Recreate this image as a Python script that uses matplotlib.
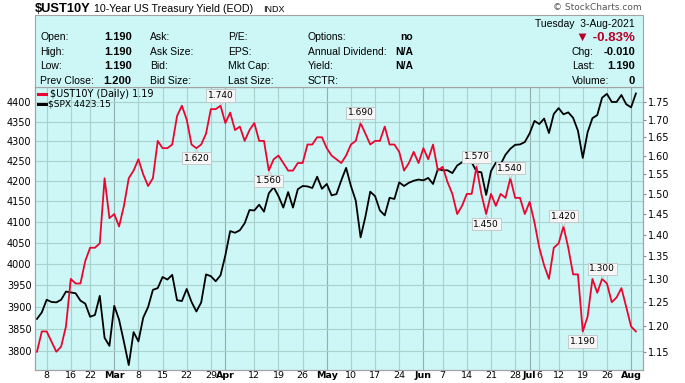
import matplotlib
matplotlib.use('Agg')
import matplotlib.pyplot as plt
import matplotlib.transforms as mtransforms
from matplotlib.ticker import FixedLocator, NullLocator, FixedFormatter
from matplotlib.patches import Rectangle
from matplotlib.lines import Line2D

W, H = 685, 383

# daily closes, trading days 4-Feb-2021 .. 3-Aug-2021
ust10y = [1.15, 1.19, 1.19, 1.17, 1.15, 1.16, 1.20, 1.30, 1.29, 1.29,
          1.34, 1.37, 1.37, 1.38, 1.54, 1.44, 1.45, 1.42, 1.47, 1.54,
          1.56, 1.59, 1.55, 1.52, 1.54, 1.64, 1.62, 1.62, 1.63, 1.71,
          1.74, 1.70, 1.63, 1.62, 1.63, 1.66, 1.73, 1.73, 1.74, 1.69,
          1.72, 1.67, 1.68, 1.64, 1.67, 1.69, 1.64, 1.64, 1.56, 1.59,
          1.60, 1.58, 1.56, 1.56, 1.58, 1.58, 1.63, 1.63, 1.65, 1.65,
          1.62, 1.60, 1.59, 1.58, 1.60, 1.63, 1.64, 1.69, 1.66, 1.63,
          1.64, 1.64, 1.68, 1.63, 1.63, 1.61, 1.56, 1.58, 1.61, 1.58,
          1.62, 1.59, 1.63, 1.56, 1.57, 1.53, 1.50, 1.45, 1.47, 1.50,
          1.50, 1.57, 1.50, 1.45, 1.50, 1.47, 1.50, 1.49, 1.54, 1.49,
          1.49, 1.45, 1.48, 1.43, 1.37, 1.33, 1.30, 1.37, 1.38, 1.42,
          1.37, 1.31, 1.31, 1.19, 1.22, 1.30, 1.27, 1.30, 1.29, 1.25,
          1.26, 1.28, 1.24, 1.20, 1.19]

spx = [3872, 3887, 3916, 3911, 3910, 3916, 3935, 3933, 3931, 3914,
       3907, 3877, 3881, 3925, 3829, 3811, 3902, 3870, 3820, 3768,
       3842, 3821, 3875, 3899, 3939, 3943, 3969, 3963, 3974, 3915,
       3913, 3941, 3911, 3889, 3910, 3975, 3971, 3959, 3973, 4020,
       4078, 4074, 4080, 4097, 4129, 4128, 4142, 4125, 4170, 4185,
       4163, 4135, 4173, 4135, 4180, 4188, 4187, 4183, 4211, 4181,
       4193, 4165, 4168, 4202, 4233, 4188, 4152, 4063, 4113, 4174,
       4163, 4128, 4116, 4159, 4156, 4197, 4188, 4196, 4201, 4204,
       4202, 4208, 4193, 4230, 4227, 4227, 4220, 4239, 4247, 4255,
       4247, 4224, 4222, 4166, 4225, 4246, 4242, 4266, 4281, 4291,
       4292, 4298, 4320, 4352, 4344, 4358, 4321, 4370, 4385, 4369,
       4374, 4360, 4327, 4258, 4323, 4359, 4367, 4412, 4422, 4401,
       4401, 4419, 4395, 4387, 4423]

tick_idx = [2, 7, 11, 16, 21, 26, 31, 36, 39, 45, 50, 55, 60, 65, 70, 75,
            80, 84, 89, 94, 99, 102, 104, 108, 113, 118, 123]
tick_lbl = ['8', '16', '22', 'Mar', '8', '15', '22', '29', 'Apr', '12', '19',
            '26', 'May', '10', '17', '24', 'Jun', '7', '14', '21', '28', 'Jul',
            '6', '12', '19', '26', 'Aug']
months = ['Mar', 'Apr', 'May', 'Jun', 'Jul', 'Aug']

peaks = [38, 67, 91, 98, 109, 117]
troughs = [33, 48, 93, 113]

spx_ticks = [3800, 3850, 3900, 3950, 4000, 4050, 4100, 4150, 4200, 4250,
             4300, 4350, 4400]
ust_ticks = [1.15, 1.20, 1.25, 1.30, 1.35, 1.40, 1.45, 1.50, 1.55, 1.60,
             1.65, 1.70, 1.75]

info_rows = [('Open:', '1.190', 'Ask:', 'P/E:', 'Options:', 'no'),
             ('High:', '1.190', 'Ask Size:', 'EPS:', 'Annual Dividend:', 'N/A'),
             ('Low:', '1.190', 'Bid:', 'Mkt Cap:', 'Yield:', 'N/A'),
             ('Prev Close:', '1.200', 'Bid Size:', 'Last Size:', 'SCTR:', '')]
quote_rows = [('Chg:', '-0.010'), ('Last:', '1.190'), ('Volume:', '0')]

bg = '#ccf7f6'
grid_c = '#a9d2cc'
month_c = '#93aeac'
frame_c = '#a3a3a3'
red = '#ea0630'
sans = ['Liberation Sans', 'DejaVu Sans']
verd = ['DejaVu Sans']


def fx(x):
    return x / W


def fy(y):
    return 1 - y / H


fig = plt.figure(figsize=(W / 100, H / 100), dpi=100)
fig.patch.set_facecolor('white')

# header
fig.text(fx(35), fy(11.7), '$UST10Y', family=sans, fontsize=9.3, fontweight='bold')
fig.text(fx(94), fy(11.7), '10-Year US Treasury Yield (EOD)', family=sans, fontsize=7.7)
fig.text(fx(263), fy(11.7), 'INDX', family=sans, fontsize=6.5)
fig.text(fx(642), fy(10), '\u00a9 StockCharts.com', family=verd, fontsize=6.5,
         color='#555555', ha='right')

# quote panel
fig.patches.append(Rectangle((fx(35), fy(87)), fx(643) - fx(35), fy(15) - fy(87),
                             transform=fig.transFigure, fc=bg, ec=frame_c, lw=0.8))
row_y = [40, 55, 69, 83.5]
for y, (l1, v1, l2, l3, l4, v4) in zip(row_y, info_rows):
    fig.text(fx(40.5), fy(y), l1, family=sans, fontsize=7.5)
    fig.text(fx(131.7), fy(y), v1, family=sans, fontsize=8, fontweight='bold', ha='right')
    fig.text(fx(150), fy(y), l2, family=sans, fontsize=7.5)
    fig.text(fx(227.7), fy(y), l3, family=sans, fontsize=7.5)
    fig.text(fx(307.7), fy(y), l4, family=sans, fontsize=7.5)
    fig.text(fx(413.3), fy(y), v4, family=sans, fontsize=7.5, fontweight='bold', ha='right')

fig.text(fx(635), fy(26.7), 'Tuesday  3-Aug-2021', family=sans, fontsize=7.5, ha='right')
fig.text(fx(635), fy(40.7), '\u25bc -0.83%', family=sans, fontsize=9.5,
         fontweight='bold', color='#b8002a', ha='right')
for y, (lab, val) in zip(row_y[1:], quote_rows):
    fig.text(fx(571.7), fy(y), lab, family=sans, fontsize=7.5)
    fig.text(fx(635), fy(y), val, family=sans, fontsize=8, fontweight='bold', ha='right')

# price chart
ax = fig.add_axes([fx(35), fy(370), fx(643) - fx(35), fy(87) - fy(370)])
ax.set_facecolor(bg)
ax2 = ax.twinx()

x = list(range(len(spx)))
ax.plot(x, spx, color='black', lw=1.3, zorder=3)
ax2.plot(x, ust10y, color=red, lw=1.3, zorder=3)

ax.set_xlim(-0.41, 125.47)
ax.set_yscale('log')
ax.set_ylim(3757, 4440)
ax2.set_yscale('log')
ax2.set_ylim(1.1152, 1.7957)

ax.yaxis.set_major_locator(FixedLocator(spx_ticks))
ax.yaxis.set_minor_locator(NullLocator())
ax.yaxis.set_major_formatter(FixedFormatter([str(v) for v in spx_ticks]))
ax2.yaxis.set_major_locator(FixedLocator(ust_ticks))
ax2.yaxis.set_minor_locator(NullLocator())
ax2.yaxis.set_major_formatter(FixedFormatter(['%.2f' % v for v in ust_ticks]))

ax.set_xticks(tick_idx)
ax.set_xticklabels(tick_lbl)
for t in ax.get_xticklabels():
    t.set_family(verd)
    t.set_fontsize(6.8)
    if t.get_text() in months:
        t.set_fontweight('bold')
for t in ax.get_yticklabels() + ax2.get_yticklabels():
    t.set_family(verd)
    t.set_fontsize(7)

ax.tick_params(axis='x', length=0, pad=0.6)
ax.tick_params(axis='y', length=0, pad=2.5)
ax2.tick_params(axis='y', length=2.2, pad=1.2, color='#888888')

ax.set_axisbelow(True)
ax.grid(axis='y', color=grid_c, lw=0.8)
for i, lab in zip(tick_idx, tick_lbl):
    ax.axvline(i, color=month_c if lab in months else grid_c, lw=0.8, zorder=0.5)

for a in (ax, ax2):
    for s in a.spines.values():
        s.set_color(frame_c)
        s.set_linewidth(0.8)

# high / low call-outs on the yield line
for i in peaks + troughs:
    up = i in peaks
    v = ust10y[i]
    mt = mtransforms.offset_copy(ax2.transData, fig=fig, x=0, y=3.5 if up else -3.5, units='dots')
    ax2.plot(i, v, marker='v' if up else '^', ms=5, mfc='#f6f6f6', mec='#c2c2c2',
             mew=0.6, transform=mt, zorder=5)
    ax2.annotate('%.3f' % v, xy=(i, v), xytext=(0, 7.3 if up else -7.3),
                 textcoords='offset points', ha='center', va='center',
                 family=verd, fontsize=6.5, zorder=6,
                 bbox=dict(boxstyle='square,pad=0.18', fc='#f6f6f6', ec='#c2c2c2', lw=0.6))

# legend
fig.lines.append(Line2D([fx(38), fx(46)], [fy(94.3), fy(94.3)], transform=fig.transFigure,
                        color=red, lw=2.2))
fig.text(fx(50), fy(94.3), '$UST10Y (Daily) 1.19', family=verd, fontsize=7, va='center')
fig.lines.append(Line2D([fx(38), fx(46)], [fy(104.3), fy(104.3)], transform=fig.transFigure,
                        color='black', lw=2.2))
fig.text(fx(48.5), fy(104.3), '$SPX 4423.15', family=verd, fontsize=6.5, va='center')

fig.savefig('out.png', dpi=100)
